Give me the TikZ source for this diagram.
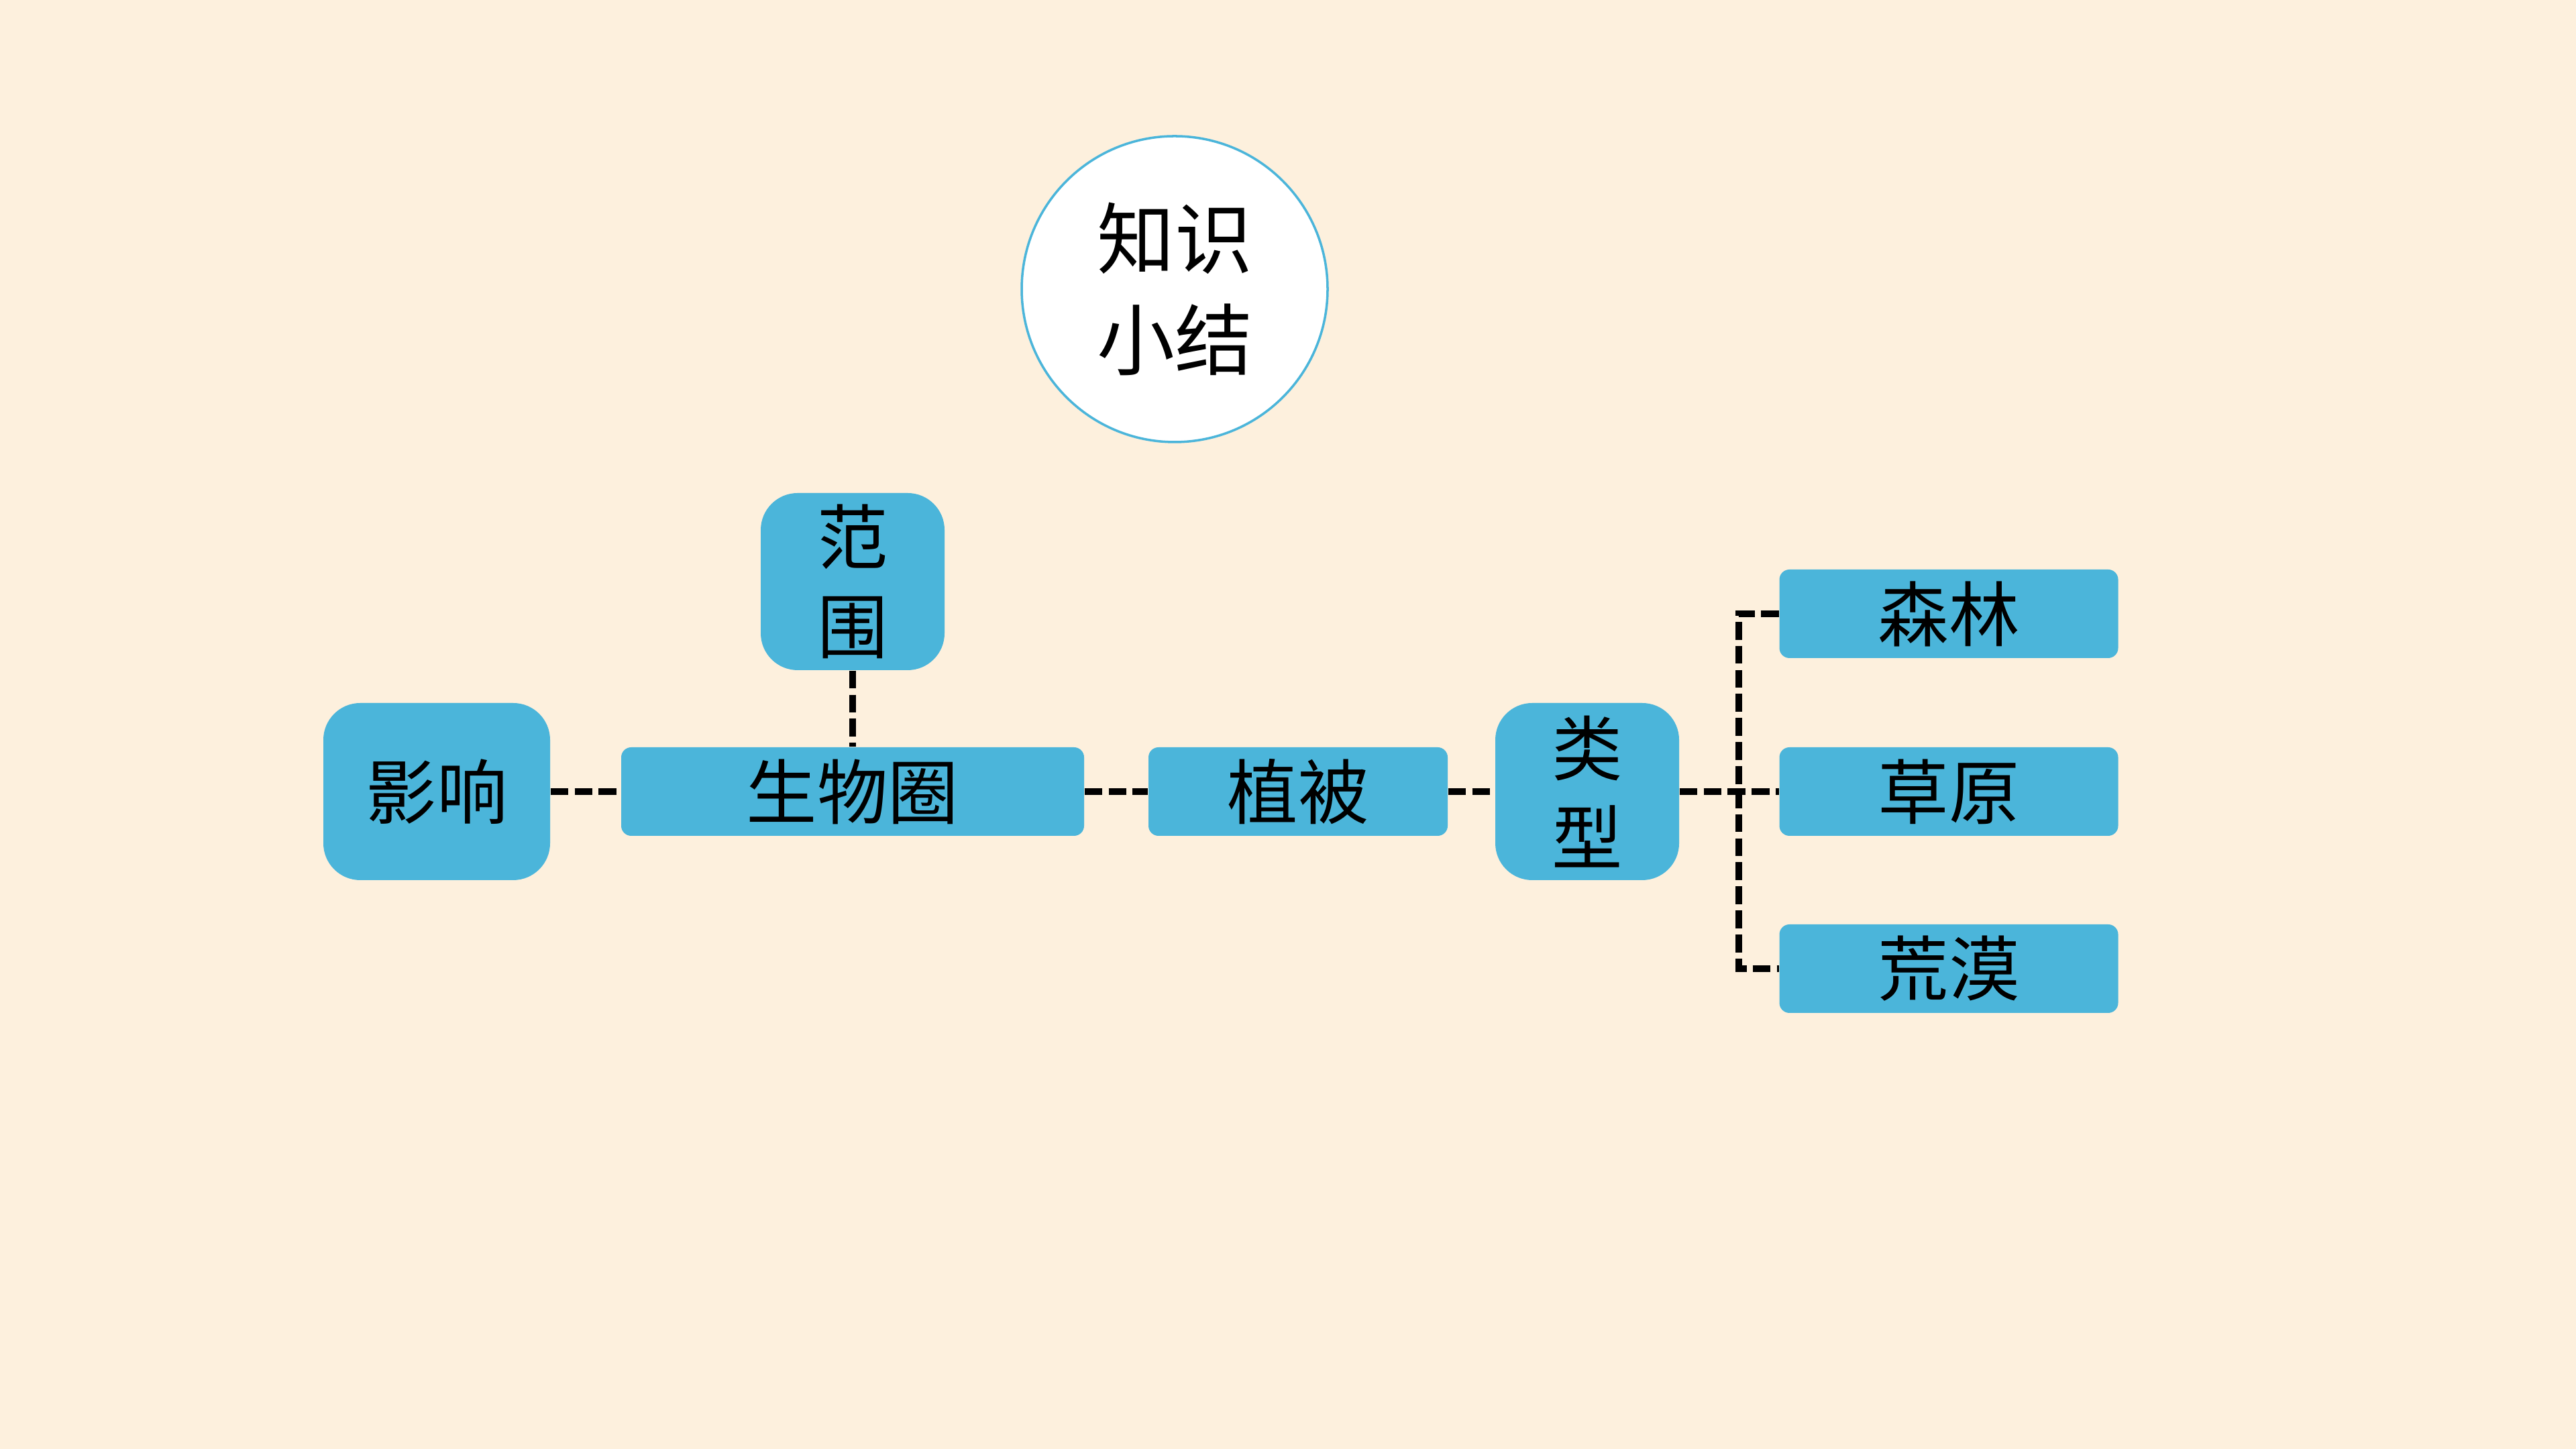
\documentclass[tikz,border=0pt]{standalone}
\usepackage{fontspec}
\newfontfamily\cjk{Noto Sans CJK SC}
\definecolor{pagefill}{RGB}{253,240,221}
\definecolor{boxfill}{RGB}{75,181,218}
\definecolor{linkcol}{RGB}{0,0,0}

\begin{document}
\begin{tikzpicture}[
  kbox/.style={fill=boxfill, inner sep=0pt, align=center, font=\cjk\fontsize{30}{38}\selectfont},
  tallbox/.style={kbox, minimum height=2.64cm, rounded corners=0.55cm},
  flatbox/.style={kbox, minimum height=1.32cm, rounded corners=0.15cm},
  link/.style={draw=linkcol, line width=2.6pt, dash pattern=on 7.6pt off 2.6pt},
]
% ===== Page =====
\fill[pagefill] (0,0) rectangle (38.4,21.6);
\useasboundingbox (0,0) rectangle (38.4,21.6);

% ===== Title circle =====
\node[circle, draw=boxfill, line width=1pt, fill=white, minimum size=4.56cm, inner sep=0pt,
  align=center, font=\cjk\fontsize{33}{43}\selectfont] (title) at (17.51,17.29) {知识\\小结};

% ===== Boxes =====
\node[tallbox, minimum width=2.74cm] (fanwei)  at (12.71,12.93) {范\\围};
\node[tallbox, minimum width=3.38cm] (yingxiang) at (6.51,9.80) {影响};
\node[flatbox, minimum width=6.90cm] (shengwu) at (12.71,9.80) {生物圈};
\node[flatbox, minimum width=4.46cm] (zhibei)  at (19.35,9.80) {植被};
\node[tallbox, minimum width=2.74cm] (leixing) at (23.66,9.80) {类\\型};
\node[flatbox, minimum width=5.05cm] (senlin)  at (29.05,12.45) {森林};
\node[flatbox, minimum width=5.05cm] (caoyuan) at (29.05,9.80)  {草原};
\node[flatbox, minimum width=5.05cm] (huangmo) at (29.05,7.16)  {荒漠};

% ===== Links =====
\coordinate (bus) at (25.92,9.80);
\draw[link] (fanwei.south) -- (shengwu.north);
\draw[link] (yingxiang.east) -- (shengwu.west);
\draw[link] (shengwu.east) -- (zhibei.west);
\draw[link] (zhibei.east) -- (leixing.west);
\draw[link] (leixing.east) -- (caoyuan.west);
% --- bus to the three types ---
\draw[link] (senlin.west) -| (bus) |- (huangmo.west);
\end{tikzpicture}
\end{document}
